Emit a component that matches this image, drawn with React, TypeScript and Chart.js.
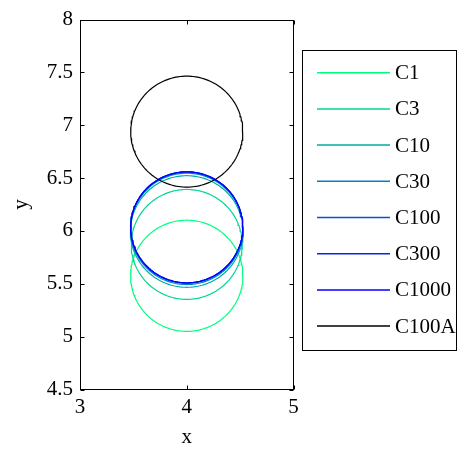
import React, { useEffect, useRef } from "react";
import { Chart, registerables } from "chart.js";

Chart.register(...registerables);

// Series: circles (center + radius)
const seriesNames = ["C1", "C3", "C10", "C30", "C100", "C300", "C1000", "C100A"];
const centerX = [4.0, 4.0, 4.0, 4.0, 4.0, 4.0, 4.0, 4.0];
const centerY = [5.576, 5.873, 5.995, 6.02, 6.03, 6.035, 6.035, 6.94];
const radii = [0.526, 0.52, 0.528, 0.527, 0.526, 0.525, 0.525, 0.525];
const seriesColors = [
  "rgb(0,255,128)",
  "rgb(0,213,149)",
  "rgb(0,170,170)",
  "rgb(0,128,191)",
  "rgb(0,85,213)",
  "rgb(0,43,234)",
  "rgb(0,0,255)",
  "rgb(0,0,0)",
];
const xTicks = [3, 4, 5];
const yTicks = [4.5, 5, 5.5, 6, 6.5, 7, 7.5, 8];
const xLabel = "x";
const yLabel = "y";

const FONT = "'Liberation Serif', 'Times New Roman', serif";
const FS = 21;
const SEGMENTS = 160;

function circlePoints(cx: number, cy: number, r: number) {
  const pts: { x: number; y: number }[] = [];
  for (let k = 0; k <= SEGMENTS; k++) {
    const a = (k / SEGMENTS) * Math.PI * 2;
    pts.push({ x: cx + r * Math.cos(a), y: cy + r * Math.sin(a) });
  }
  return pts;
}

const framePlugin = {
  id: "frame",
  afterDatasetsDraw(chart: any) {
    const { ctx, chartArea, scales } = chart;
    const { left, right, top, bottom } = chartArea;
    ctx.save();
    ctx.strokeStyle = "#000";
    ctx.lineWidth = 1;
    const L = Math.round(left) + 0.5;
    const R = Math.round(right) - 0.5;
    const T = Math.round(top) + 0.5;
    const B = Math.round(bottom) - 0.5;
    ctx.strokeRect(L, T, R - L, B - T);
    const tl = 4;
    ctx.beginPath();
    for (const v of xTicks) {
      const x = Math.round(scales.x.getPixelForValue(v)) + 0.5;
      ctx.moveTo(x, B);
      ctx.lineTo(x, B - tl);
      ctx.moveTo(x, T);
      ctx.lineTo(x, T + tl);
    }
    for (const v of yTicks) {
      const y = Math.round(scales.y.getPixelForValue(v)) + 0.5;
      ctx.moveTo(L, y);
      ctx.lineTo(L + tl, y);
      ctx.moveTo(R, y);
      ctx.lineTo(R - tl, y);
    }
    ctx.stroke();
    ctx.restore();
  },
};

const legendPlugin = {
  id: "boxLegend",
  afterDraw(chart: any) {
    const { ctx } = chart;
    ctx.save();
    ctx.strokeStyle = "#000";
    ctx.lineWidth = 1;
    ctx.strokeRect(302.5, 50.5, 154, 300);
    ctx.font = `${FS}px ${FONT}`;
    ctx.textBaseline = "middle";
    ctx.textAlign = "left";
    chart.data.datasets.forEach((ds: any, i: number) => {
      const y = 72.7 + i * 36.2;
      ctx.strokeStyle = ds.borderColor;
      ctx.lineWidth = 1.5;
      ctx.beginPath();
      ctx.moveTo(317, y);
      ctx.lineTo(390, y);
      ctx.stroke();
      ctx.fillStyle = "#000";
      ctx.fillText(ds.label, 395, y + 1);
    });
    ctx.restore();
  },
};

export default function App() {
  const ref = useRef<HTMLCanvasElement | null>(null);
  useEffect(() => {
    if (!ref.current) return;
    const datasets = seriesNames.map((name, i) => ({
      label: name,
      data: circlePoints(centerX[i], centerY[i], radii[i]),
      borderColor: seriesColors[i],
      backgroundColor: seriesColors[i],
      borderWidth: 1.2,
      pointRadius: 0,
      showLine: true,
      fill: false,
      tension: 0,
      order: -i,
    }));
    const chart = new Chart(ref.current, {
      type: "scatter",
      data: { datasets },
      options: {
        animation: false,
        responsive: false,
        maintainAspectRatio: false,
        layout: { padding: { left: 0, top: 14.5, right: 165.5, bottom: 0 } },
        plugins: { legend: { display: false }, tooltip: { enabled: false } },
        scales: {
          x: {
            type: "linear",
            min: 3,
            max: 5,
            afterBuildTicks: (s: any) => {
              s.ticks = xTicks.map((v) => ({ value: v }));
            },
            afterFit: (s: any) => {
              s.height = 60.5;
            },
            grid: { display: false, drawTicks: false },
            border: { display: false },
            ticks: {
              color: "#000",
              font: { family: FONT, size: FS },
              padding: 5,
              maxRotation: 0,
              autoSkip: false,
              callback: (v: any) => String(v),
            },
            title: {
              display: true,
              text: xLabel,
              color: "#000",
              font: { family: FONT, size: FS },
              padding: { top: 0, bottom: 0 },
            },
          },
          y: {
            type: "linear",
            min: 4.5,
            max: 8,
            afterBuildTicks: (s: any) => {
              s.ticks = yTicks.map((v) => ({ value: v }));
            },
            afterFit: (s: any) => {
              s.width = 80;
            },
            grid: { display: false, drawTicks: false },
            border: { display: false },
            ticks: {
              color: "#000",
              font: { family: FONT, size: FS },
              padding: 7,
              autoSkip: false,
              callback: (v: any) => String(v),
            },
            title: {
              display: true,
              text: yLabel,
              color: "#000",
              font: { family: FONT, size: FS },
              padding: { top: 9, bottom: 0 },
            },
          },
        },
      },
      plugins: [framePlugin, legendPlugin],
    });
    return () => chart.destroy();
  }, []);
  return (
    <div style={{ position: "fixed", left: 0, top: 0, width: 459, height: 450, background: "#fff" }}>
      <canvas ref={ref} width={459} height={450} style={{ display: "block", width: 459, height: 450 }} />
    </div>
  );
}
